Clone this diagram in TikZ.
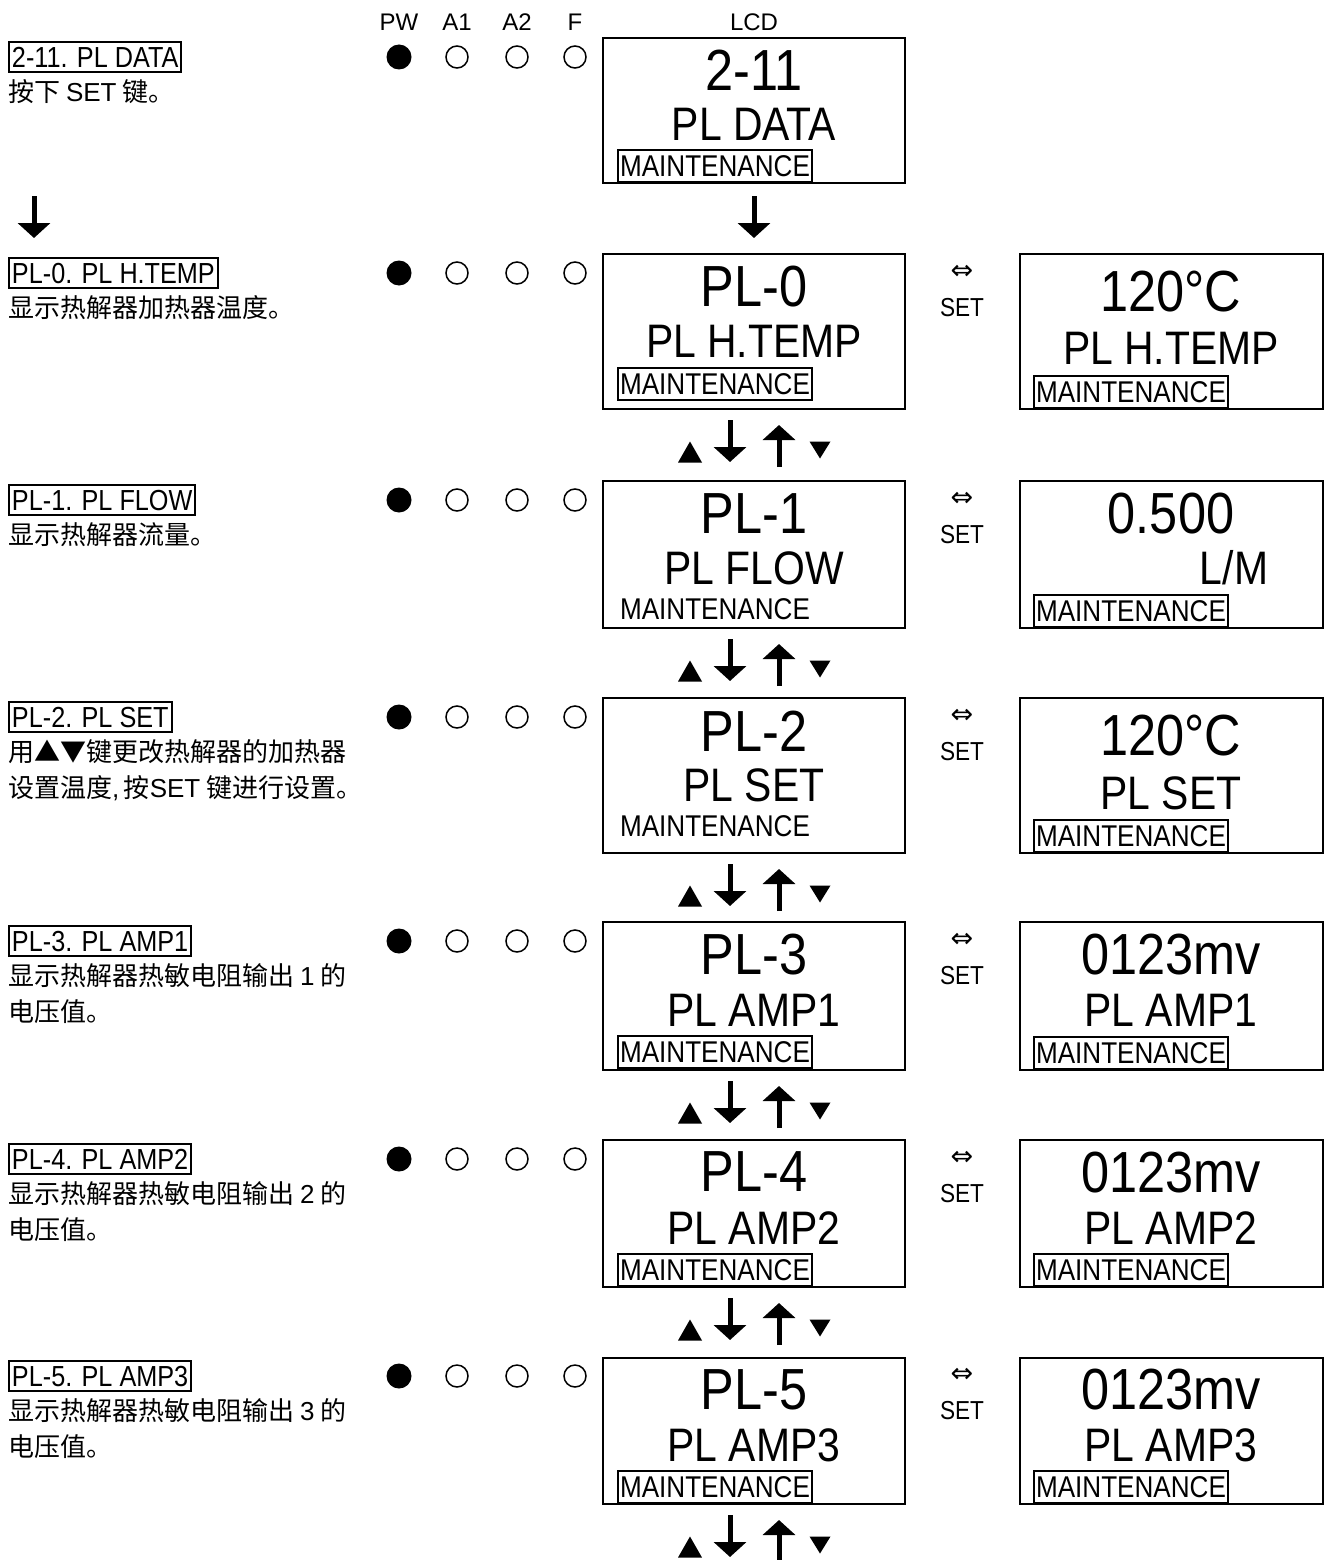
\documentclass[tikz,border=0pt]{standalone}
\usepackage{fontspec}
\setmainfont{Liberation Sans}[FakeStretch=0.87]
\newfontfamily\latn{Liberation Sans}
\newfontfamily\cjk{Noto Sans CJK SC}
\newfontfamily\djv{DejaVu Sans}
\usetikzlibrary{arrows.meta,calc}
\newcommand\fsz[1]{\fontsize{#1pt}{#1pt}\selectfont}
\newcommand\lat[1]{{\latn #1}}
\tikzset{
  lcd/.style={draw, line width=2.5pt, minimum width=302pt, inner sep=0pt, outer sep=0pt},
  lcdbig/.style={font=\fsz{58}, inner sep=0pt},
  lcdmid/.style={font=\fsz{47}, inner sep=0pt},
  mt/.style={font=\fsz{30}, inner xsep=2pt, inner ysep=5.5pt, text height=21.5pt, text depth=0pt},
  mtbox/.style={mt, draw, line width=2pt},
  lbl/.style={font=\fsz{29}, draw, line width=2pt, inner xsep=3pt, inner ysep=4.5pt, anchor=west, text height=21pt, text depth=0pt},
  desc/.style={font=\cjk\fsz{26}, inner sep=0pt, anchor=west},
  hdr/.style={font=\latn\fsz{24}, inner sep=0pt},
  xch/.style={font=\djv\fsz{27}, inner sep=0pt},
  setl/.style={font=\fsz{26}, inner sep=0pt},
  bigarrow/.style={line width=5pt, -{Triangle[width=32pt,length=15pt]}},
  ledoff/.style={draw=black, line width=1.5pt},
}
\newcommand\leds[1]{%
  \fill (399,#1) circle (12.5);
  \draw[ledoff] (457,#1) circle (11);
  \draw[ledoff] (517,#1) circle (11);
  \draw[ledoff] (575,#1) circle (11);
}
\newcommand\navarrows[1]{%
  \draw[bigarrow] ($(#1.south)+(-24,11)$) -- ($(#1.south)+(-24,53)$);
  \draw[bigarrow] ($(#1.south)+(25,58)$) -- ($(#1.south)+(25,16)$);
  \fill ($(#1.south)+(-76,53.5)$) -- ++(24,0) -- ++(-12,-21) -- cycle;
  \fill ($(#1.south)+(55.5,32.5)$) -- ++(21,0) -- ++(-10.5,17) -- cycle;
}
\begin{document}
\begin{tikzpicture}[x=1pt,y=-1pt]
\useasboundingbox[fill=white] (0,0) rectangle (1331,1560);
% headers
\node[hdr] (hPW) at (399,22) {PW};
\node[hdr] (hA1) at (457,22) {A1};
\node[hdr] (hA2) at (517,22) {A2};
\node[hdr] (hF) at (575,22) {F};
\node[hdr] (hLCD) at (754,22) {LCD};
% top row
\node[lbl] (lab0) at (8,57) {2-11. PL DATA};
\node[desc] (des0) at (8,92) {按下 \lat{SET} 键。};
\leds{57}
\node[lcd, minimum height=145pt] (Ltop) at (754,110.5) {};
\node[lcdbig] at (754,70) {2-11};
\node[lcdmid] at (754,124) {PL DATA};
\node[mtbox] at (715,166) {MAINTENANCE};
\coordinate (la1) at (34,196);
\coordinate (la2) at (34,238);
\draw[bigarrow] (la1) -- (la2);
% row 0
\node[lbl] (lab1) at (8,273) {PL-0. PL H.TEMP};
\node[desc] (des1) at (8,308) {显示热解器加热器温度。};
\leds{273}
\node[lcd, minimum height=155pt] (L0) at (754,331.5) {};
\node[lcdbig] at (754,287) {PL-0};
\node[lcdmid] at (754,341) {PL H.TEMP};
\node[mtbox] at (715,384) {MAINTENANCE};
\node[xch] (x0) at (962,272) {⇔};
\node[setl] (s0) at (962,308) {SET};
\node[lcd, minimum height=155pt, minimum width=303pt] (R0) at (1171.5,331.5) {};
\node[lcdbig] at (1171,292) {120°C};
\node[lcdmid] at (1171,348) {PL H.TEMP};
\node[mtbox] at (1131,392) {MAINTENANCE};
\draw[bigarrow] ($(Ltop.south)+(0,13)$) -- ($(L0.north)+(0,-16)$);
\navarrows{L0}
% row 1
\node[lbl] (lab2) at (8,500) {PL-1. PL FLOW};
\node[desc] (des2) at (8,535) {显示热解器流量。};
\leds{500}
\node[lcd, minimum height=147pt] (L1) at (754,554.5) {};
\node[lcdbig] at (754,514) {PL-1};
\node[lcdmid] at (754,568) {PL FLOW};
\node[mt] at (715,609) {MAINTENANCE};
\node[xch] (x1) at (962,499) {⇔};
\node[setl] (s1) at (962,535) {SET};
\node[lcd, minimum height=147pt, minimum width=303pt] (R1) at (1171.5,554.5) {};
\node[lcdbig] at (1171,514) {0.500};
\node[lcdmid] at (1234,568) {L/M};
\node[mtbox] at (1131,611) {MAINTENANCE};
\navarrows{L1}
% row 2
\node[lbl] (lab3) at (8,717) {PL-2. PL SET};
\node[desc] (des3a) at (8,752) {用▲▼键更改热解器的加热器};
\node[desc] (des3b) at (8,788) {设置温度\lat{,\,}按\lat{SET} 键进行设置。};
\leds{717}
\node[lcd, minimum height=155pt] (L2) at (754,775.5) {};
\node[lcdbig] at (754,731) {PL-2};
\node[lcdmid] at (754,785) {PL SET};
\node[mt] at (715,826) {MAINTENANCE};
\node[xch] (x2) at (962,716) {⇔};
\node[setl] (s2) at (962,752) {SET};
\node[lcd, minimum height=155pt, minimum width=303pt] (R2) at (1171.5,775.5) {};
\node[lcdbig] at (1171,736) {120°C};
\node[lcdmid] at (1171,793) {PL SET};
\node[mtbox] at (1131,836) {MAINTENANCE};
\navarrows{L2}
% row 3
\node[lbl] (lab4) at (8,941) {PL-3. PL AMP1};
\node[desc] (des4a) at (8,976) {显示热解器热敏电阻输出 \lat{1} 的};
\node[desc] (des4b) at (8,1012) {电压值。};
\leds{941}
\node[lcd, minimum height=148pt] (L3) at (754,996) {};
\node[lcdbig] at (754,955) {PL-3};
\node[lcdmid] at (754,1010) {PL AMP1};
\node[mtbox] at (715,1052) {MAINTENANCE};
\node[xch] (x3) at (962,940) {⇔};
\node[setl] (s3) at (962,976) {SET};
\node[lcd, minimum height=148pt, minimum width=303pt] (R3) at (1171.5,996) {};
\node[lcdbig] at (1171,955) {0123mv};
\node[lcdmid] at (1171,1010) {PL AMP1};
\node[mtbox] at (1131,1053) {MAINTENANCE};
\navarrows{L3}
% row 4
\node[lbl] (lab5) at (8,1159) {PL-4. PL AMP2};
\node[desc] (des5a) at (8,1194) {显示热解器热敏电阻输出 \lat{2} 的};
\node[desc] (des5b) at (8,1230) {电压值。};
\leds{1159}
\node[lcd, minimum height=147pt] (L4) at (754,1213.5) {};
\node[lcdbig] at (754,1172) {PL-4};
\node[lcdmid] at (754,1228) {PL AMP2};
\node[mtbox] at (715,1270) {MAINTENANCE};
\node[xch] (x4) at (962,1158) {⇔};
\node[setl] (s4) at (962,1194) {SET};
\node[lcd, minimum height=147pt, minimum width=303pt] (R4) at (1171.5,1213.5) {};
\node[lcdbig] at (1171,1173) {0123mv};
\node[lcdmid] at (1171,1228) {PL AMP2};
\node[mtbox] at (1131,1270) {MAINTENANCE};
\navarrows{L4}
% row 5
\node[lbl] (lab6) at (8,1376) {PL-5. PL AMP3};
\node[desc] (des6a) at (8,1411) {显示热解器热敏电阻输出 \lat{3} 的};
\node[desc] (des6b) at (8,1447) {电压值。};
\leds{1376}
\node[lcd, minimum height=146pt] (L5) at (754,1431) {};
\node[lcdbig] at (754,1390) {PL-5};
\node[lcdmid] at (754,1445) {PL AMP3};
\node[mtbox] at (715,1487) {MAINTENANCE};
\node[xch] (x5) at (962,1375) {⇔};
\node[setl] (s5) at (962,1411) {SET};
\node[lcd, minimum height=146pt, minimum width=303pt] (R5) at (1171.5,1431) {};
\node[lcdbig] at (1171,1390) {0123mv};
\node[lcdmid] at (1171,1445) {PL AMP3};
\node[mtbox] at (1131,1487) {MAINTENANCE};
\navarrows{L5}
\end{tikzpicture}
\end{document}
